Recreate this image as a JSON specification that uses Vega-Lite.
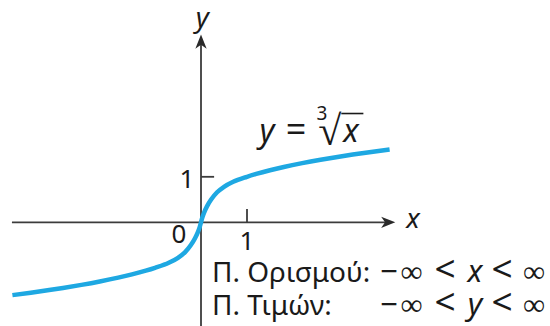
{
  "$schema": "https://vega.github.io/schema/vega-lite/v6.json",
  "width": 550,
  "height": 326,
  "autosize": {"type": "none"},
  "padding": 0,
  "background": "white",
  "config": {"view": {"stroke": null}, "axis": {"disable": true}, "text": {"font": "Noto Sans", "color": "#1a1a1a", "baseline": "alphabetic", "align": "center"}},
  "datasets": {
    "curve": [
      {"x": -4.1, "y": -1.6005}, {"x": -3.7, "y": -1.5467}, {"x": -3.3, "y": -1.4888},
      {"x": -3.0, "y": -1.4422}, {"x": -2.6, "y": -1.3751}, {"x": -2.2, "y": -1.3006},
      {"x": -1.8, "y": -1.2164}, {"x": -1.5, "y": -1.1447}, {"x": -1.2, "y": -1.0627},
      {"x": -1.0, "y": -1.0}, {"x": -0.7, "y": -0.89}, {"x": -0.5, "y": -0.78},
      {"x": -0.35, "y": -0.66}, {"x": -0.22, "y": -0.5}, {"x": -0.13, "y": -0.35},
      {"x": -0.07, "y": -0.22}, {"x": -0.03, "y": -0.11}, {"x": 0, "y": 0},
      {"x": 0.03, "y": 0.11}, {"x": 0.07, "y": 0.22}, {"x": 0.13, "y": 0.35},
      {"x": 0.22, "y": 0.5}, {"x": 0.35, "y": 0.66}, {"x": 0.5, "y": 0.78},
      {"x": 0.7, "y": 0.89}, {"x": 1.0, "y": 1.0}, {"x": 1.2, "y": 1.0627},
      {"x": 1.5, "y": 1.1447}, {"x": 1.8, "y": 1.2164}, {"x": 2.2, "y": 1.3006},
      {"x": 2.6, "y": 1.3751}, {"x": 3.0, "y": 1.4422}, {"x": 3.3, "y": 1.4888},
      {"x": 3.7, "y": 1.5467}, {"x": 4.1, "y": 1.6005}
    ],
    "axes": [
      {"x": -4.11, "y": 0, "x2": 4.02, "y2": 0},
      {"x": 0, "y": -2.4, "x2": 0, "y2": 3.92},
      {"x": 1, "y": 0, "x2": 1, "y2": 0.29},
      {"x": 0, "y": 1.0, "x2": 0.285, "y2": 1.0}
    ],
    "overbar": [{"x": 3.05, "y": 2.391, "x2": 3.53, "y2": 2.391}],
    "arrowRight": [{"x": 4.07, "y": 0}],
    "arrowUp": [{"x": 0, "y": 3.97}],
    "ticks": [
      {"x": -0.478, "y": -0.455, "t": "0"},
      {"x": 1.0, "y": -0.609, "t": "1"},
      {"x": -0.304, "y": 0.754, "t": "1"}
    ],
    "axisNames": [
      {"x": 4.609, "y": -0.125, "t": "x"},
      {"x": 0.03, "y": 4.29, "t": "y"}
    ],
    "eqItalic": [
      {"x": 1.435, "y": 1.765, "t": "y"},
      {"x": 3.26, "y": 1.765, "t": "x"}
    ],
    "eqEquals": [{"x": 2.065, "y": 1.765, "t": "="}],
    "eqRadical": [{"x": 2.8, "y": 1.70, "t": "√"}],
    "eqIndex": [{"x": 2.63, "y": 2.25, "t": "3"}],
    "rangeLabels": [
      {"x": 0.239, "y": -1.312, "t": "Π. Ορισμού:"},
      {"x": 0.239, "y": -2.037, "t": "Π. Τιμών:"}
    ],
    "rangeInf": [
      {"x": 4.087, "y": -1.312, "t": "−"},
      {"x": 4.576, "y": -1.312, "t": "∞"},
      {"x": 7.239, "y": -1.312, "t": "∞"},
      {"x": 4.087, "y": -2.037, "t": "−"},
      {"x": 4.576, "y": -2.037, "t": "∞"},
      {"x": 7.239, "y": -2.037, "t": "∞"}
    ],
    "rangeLess": [
      {"x": 5.304, "y": -1.312, "t": "<"},
      {"x": 6.543, "y": -1.312, "t": "<"},
      {"x": 5.304, "y": -2.037, "t": "<"},
      {"x": 6.543, "y": -2.037, "t": "<"}
    ],
    "rangeVars": [
      {"x": 5.957, "y": -1.312, "t": "x"},
      {"x": 5.957, "y": -2.037, "t": "y"}
    ]
  },
  "encoding": {
    "x": {"field": "x", "type": "quantitative", "scale": {"domain": [-4.3696, 7.587], "nice": false, "zero": false}, "axis": null},
    "y": {"field": "y", "type": "quantitative", "scale": {"domain": [-2.279, 4.886], "nice": false, "zero": false}, "axis": null}
  },
  "layer": [
    {
      "data": {"name": "axes"},
      "mark": {"type": "rule", "color": "#3c3c3c", "strokeWidth": 1.8},
      "encoding": {"x2": {"field": "x2"}, "y2": {"field": "y2"}}
    },
    {
      "data": {"name": "overbar"},
      "mark": {"type": "rule", "color": "#1a1a1a", "strokeWidth": 1.6},
      "encoding": {"x2": {"field": "x2"}, "y2": {"field": "y2"}}
    },
    {
      "data": {"name": "arrowRight"},
      "mark": {"type": "point", "filled": true, "color": "#2a2a2a", "opacity": 1, "size": 200,
               "shape": "M1,0 L-1,-0.8 L-0.45,0 L-1,0.8 Z"}
    },
    {
      "data": {"name": "arrowUp"},
      "mark": {"type": "point", "filled": true, "color": "#2a2a2a", "opacity": 1, "size": 200,
               "shape": "M0,-1 L-0.8,1 L0,0.45 L0.8,1 Z"}
    },
    {
      "data": {"name": "curve"},
      "mark": {"type": "line", "color": "#1ea8e2", "strokeWidth": 4.5, "interpolate": "monotone", "strokeCap": "butt"},
      "encoding": {"order": {"field": "x", "type": "quantitative"}}
    },
    {
      "data": {"name": "ticks"},
      "mark": {"type": "text", "fontSize": 26},
      "encoding": {"text": {"field": "t"}}
    },
    {
      "data": {"name": "axisNames"},
      "mark": {"type": "text", "fontStyle": "italic", "fontSize": 28},
      "encoding": {"text": {"field": "t"}}
    },
    {
      "data": {"name": "eqItalic"},
      "mark": {"type": "text", "fontStyle": "italic", "fontSize": 32},
      "encoding": {"text": {"field": "t"}}
    },
    {
      "data": {"name": "eqEquals"},
      "mark": {"type": "text", "fontSize": 36},
      "encoding": {"text": {"field": "t"}}
    },
    {
      "data": {"name": "eqRadical"},
      "mark": {"type": "text", "fontSize": 42},
      "encoding": {"text": {"field": "t"}}
    },
    {
      "data": {"name": "eqIndex"},
      "mark": {"type": "text", "fontSize": 19},
      "encoding": {"text": {"field": "t"}}
    },
    {
      "data": {"name": "rangeLabels"},
      "mark": {"type": "text", "fontSize": 28, "align": "left"},
      "encoding": {"text": {"field": "t"}}
    },
    {
      "data": {"name": "rangeInf"},
      "mark": {"type": "text", "fontSize": 31},
      "encoding": {"text": {"field": "t"}}
    },
    {
      "data": {"name": "rangeLess"},
      "mark": {"type": "text", "fontSize": 37},
      "encoding": {"text": {"field": "t"}}
    },
    {
      "data": {"name": "rangeVars"},
      "mark": {"type": "text", "fontStyle": "italic", "fontSize": 31},
      "encoding": {"text": {"field": "t"}}
    }
  ]
}
